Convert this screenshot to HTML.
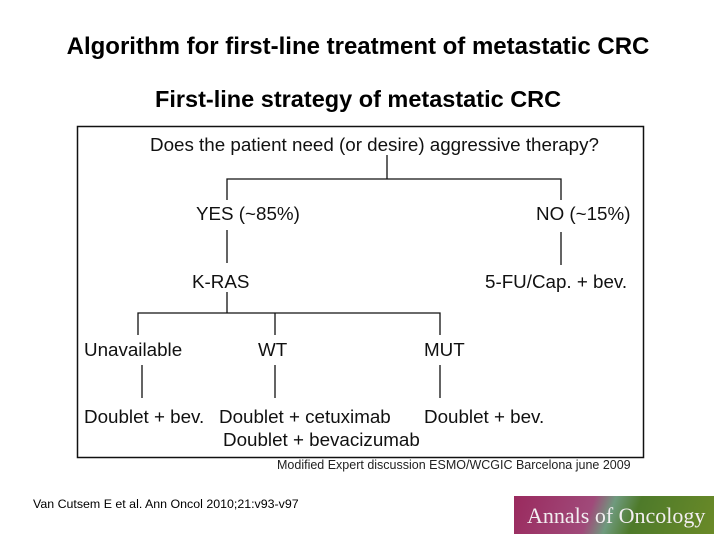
<!DOCTYPE html>
<html><head><meta charset="utf-8"><style>
body{margin:0;width:720px;height:540px;background:#fff;position:relative;overflow:hidden;font-family:"Liberation Sans",sans-serif;color:#000}
.t{position:absolute;white-space:nowrap;line-height:1}
.n{font-size:18.8px;color:#111}
</style></head><body>
<div class="t" style="left:-2px;width:720px;text-align:center;top:35px;font-size:24px;font-weight:bold">Algorithm for first-line treatment of metastatic CRC</div>
<div class="t" style="left:155px;top:88px;font-size:23.5px;font-weight:bold">First-line strategy of metastatic CRC</div>
<svg width="720" height="540" style="position:absolute;left:0;top:0">
<rect x="77.5" y="126.5" width="566" height="331" fill="none" stroke="#111" stroke-width="1.5"/>
<g stroke="#111" stroke-width="1.3" fill="none">
<path d="M387 155V179M227 200V179H561V200"/>
<path d="M227 230V263M561 232V265"/>
<path d="M227 292V313M138 335V313H440V335M275 313V335"/>
<path d="M142 365V398M275 365V398M440 365V398"/>
</g></svg>
<div class="t n" style="left:150px;top:136px">Does the patient need (or desire) aggressive therapy?</div>
<div class="t n" style="left:196px;top:205px">YES (~85%)</div>
<div class="t n" style="left:536px;top:205px">NO (~15%)</div>
<div class="t n" style="left:192px;top:273px">K-RAS</div>
<div class="t n" style="left:485px;top:273px">5-FU/Cap. + bev.</div>
<div class="t n" style="left:84px;top:341px">Unavailable</div>
<div class="t n" style="left:258px;top:341px">WT</div>
<div class="t n" style="left:424px;top:341px">MUT</div>
<div class="t n" style="left:84px;top:408px">Doublet + bev.</div>
<div class="t n" style="left:219px;top:408px">Doublet + cetuximab</div>
<div class="t n" style="left:424px;top:408px">Doublet + bev.</div>
<div class="t n" style="left:223px;top:431px">Doublet + bevacizumab</div>
<div class="t" style="left:277px;top:459px;font-size:12.5px;color:#222">Modified Expert discussion ESMO/WCGIC Barcelona june 2009</div>
<div class="t" style="left:33px;top:498px;font-size:12.4px">Van Cutsem E et al. Ann Oncol 2010;21:v93-v97</div>
<div style="position:absolute;left:514px;top:496px;width:200px;height:38px;background:linear-gradient(110deg,#9a2a5e 0%,#a04a7a 38%,#6f9a7e 48%,#4e7a2a 60%,#6a8a28 100%)">
<div class="t" style="left:13px;top:9px;font-family:'Liberation Serif',serif;font-size:22px;color:#f2eef0">Annals of Oncology</div></div>
</body></html>
